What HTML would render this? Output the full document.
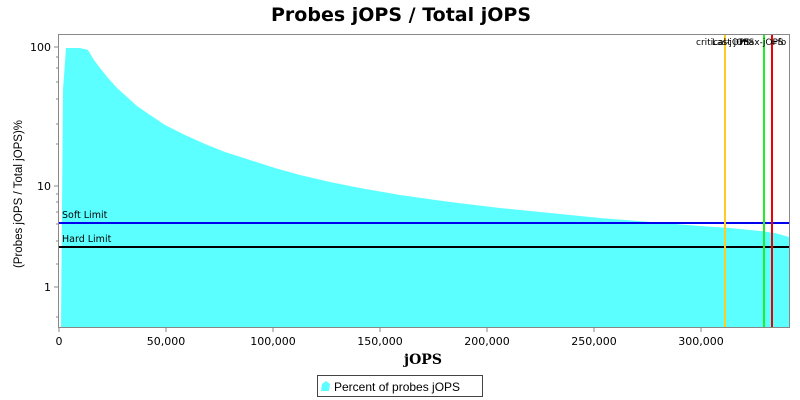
<!DOCTYPE html>
<html><head><meta charset="utf-8"><style>body{margin:0;background:#fff}svg{display:block}</style></head><body>
<svg width="800" height="400" xmlns="http://www.w3.org/2000/svg" font-family="'Liberation Sans','DejaVu Sans',sans-serif">
<rect width="800" height="400" fill="#fff"/>
<text x="401" y="21" text-anchor="middle" font-size="19" font-weight="bold" font-family="'DejaVu Sans',sans-serif">Probes jOPS / Total jOPS</text>
<path d="M59,327 L61,327 L63,90 L66,48 L80,48 L88,50 L94,60 L100,68 L108,78 L117,88 L127,97 L137,106 L150,115 L165,125 L185,135 L205,144 L225,152 L250,160 L275,168 L300,175 L330,182 L360,188 L400,195 L450,202 L500,208 L550,213 L600,218 L650,222 L700,226 L730,228 L760,231 L775,233 L789,237 L789,327 Z" fill="#5cffff"/>
<line x1="59" y1="223" x2="789" y2="223" stroke="#0000ee" stroke-width="2"/>
<line x1="59" y1="247" x2="789" y2="247" stroke="#000" stroke-width="2"/>
<text x="62" y="218" font-size="9.5" font-family="'DejaVu Sans',sans-serif">Soft Limit</text>
<text x="62" y="242" font-size="9.5" font-family="'DejaVu Sans',sans-serif">Hard Limit</text>
<line x1="725" y1="34" x2="725" y2="327" stroke="#ffcc22" stroke-width="2"/>
<line x1="764" y1="34" x2="764" y2="327" stroke="#22ee22" stroke-width="2"/>
<line x1="772" y1="34" x2="772" y2="327" stroke="#ee0000" stroke-width="2"/>
<text x="696" y="45" font-size="9" font-family="'DejaVu Sans',sans-serif">critical-jOPS</text>
<text x="712" y="45" font-size="9" font-family="'DejaVu Sans',sans-serif">Last jOPS</text>
<text x="740" y="45" font-size="9" font-family="'DejaVu Sans',sans-serif">max-jOPS</text>
<text x="770" y="45" font-size="9" font-family="'DejaVu Sans',sans-serif">=fo</text>
<rect x="58.5" y="34.5" width="731" height="293" fill="none" stroke="#888"/>
<g stroke="#888">
<line x1="54" y1="47" x2="58" y2="47"/><line x1="54" y1="186" x2="58" y2="186"/><line x1="54" y1="287" x2="58" y2="287"/>
<line x1="56" y1="57" x2="58" y2="57"/><line x1="56" y1="68" x2="58" y2="68"/><line x1="56" y1="82" x2="58" y2="82"/><line x1="56" y1="99" x2="58" y2="99"/><line x1="56" y1="124" x2="58" y2="124"/><line x1="56" y1="144" x2="58" y2="144"/>
<line x1="56" y1="194" x2="58" y2="194"/><line x1="56" y1="202" x2="58" y2="202"/><line x1="56" y1="212" x2="58" y2="212"/><line x1="56" y1="224" x2="58" y2="224"/><line x1="56" y1="241" x2="58" y2="241"/><line x1="56" y1="264" x2="58" y2="264"/>
<line x1="56" y1="317" x2="58" y2="317"/>
<line x1="59" y1="328" x2="59" y2="332"/><line x1="166" y1="328" x2="166" y2="332"/><line x1="273" y1="328" x2="273" y2="332"/><line x1="380" y1="328" x2="380" y2="332"/><line x1="487" y1="328" x2="487" y2="332"/><line x1="594" y1="328" x2="594" y2="332"/><line x1="701" y1="328" x2="701" y2="332"/>
</g>
<g font-size="11" text-anchor="end" font-family="'DejaVu Sans',sans-serif">
<text x="51" y="51">100</text><text x="51" y="190">10</text><text x="51" y="291">1</text></g>
<g font-size="11" text-anchor="middle" font-family="'DejaVu Sans',sans-serif">
<text x="59" y="345">0</text><text x="166" y="345">50,000</text><text x="273" y="345">100,000</text><text x="380" y="345">150,000</text><text x="487" y="345">200,000</text><text x="594" y="345">250,000</text><text x="701" y="345">300,000</text></g>
<text x="423" y="364" text-anchor="middle" font-size="14" font-weight="bold" font-family="'DejaVu Serif',serif">jOPS</text>
<text transform="translate(22,194) rotate(-90)" text-anchor="middle" font-size="11.5">(Probes jOPS / Total jOPS)%</text>
<rect x="317.5" y="375.5" width="165" height="21" fill="#fff" stroke="#444"/>
<path d="M321,391 L322,384 L326,381 L330,384 L329,391 Z" fill="#5cffff"/>
<text x="334" y="391" font-size="12">Percent of probes jOPS</text>
</svg>
</body></html>
